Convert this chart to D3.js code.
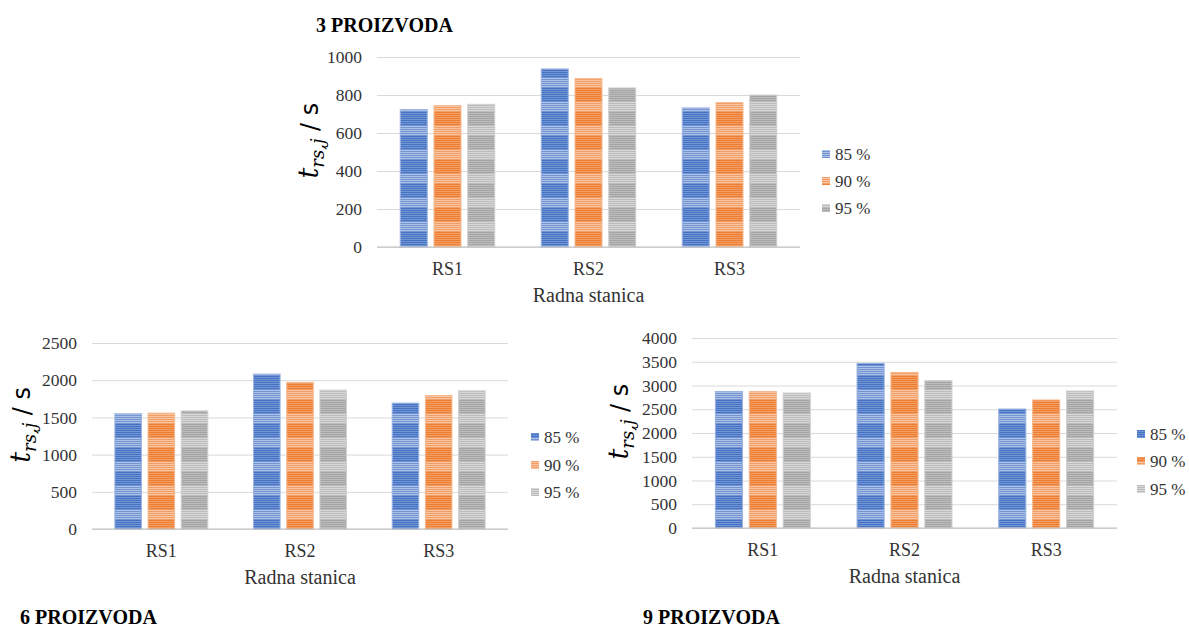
<!DOCTYPE html>
<html>
<head>
<meta charset="utf-8">
<script src="https://cdn.jsdelivr.net/npm/d3@7"></script>
<style>
  body { margin: 0; background: #fff; }
</style>
</head>
<body>
<div id="chart"></div>
<script>
const categories = ["RS1", "RS2", "RS3"];
const series = ["85 %", "90 %", "95 %"];
const colors = ["#4472C4", "#ED7D31", "#A5A5A5"];

// 3 proizvoda
const p3_85 = [723, 937, 732];
const p3_90 = [744, 886, 760];
const p3_95 = [751, 837, 800];
// 6 proizvoda
const p6_85 = [1548, 2082, 1692];
const p6_90 = [1557, 1969, 1794];
const p6_95 = [1588, 1867, 1857];
// 9 proizvoda
const p9_85 = [2873, 3466, 2505];
const p9_90 = [2873, 3276, 2695];
const p9_95 = [2842, 3102, 2884];

const serif = "'Liberation Serif', 'Times New Roman', serif";
const textCol = "#333";

const width = 1189, height = 628;
const svg = d3.select("#chart").append("svg")
  .attr("width", width).attr("height", height);

const defs = svg.append("defs");
// horizontal stripe fill like the original bars
colors.forEach((c, i) => {
  const light = d3.interpolateRgb(c, "#fff")(0.55);
  const mid = d3.interpolateRgb(c, "#fff")(0.25);
  const pat = defs.append("pattern")
    .attr("id", "stripe" + i)
    .attr("patternUnits", "userSpaceOnUse")
    .attr("width", 8).attr("height", 24);
  pat.append("rect").attr("width", 8).attr("height", 24).attr("fill", mid);
  for (let y = 0; y < 24; y += 2) {
    const inBand = (y >= 6 && y < 16);
    pat.append("rect").attr("x", 0).attr("y", y).attr("width", 8).attr("height", 1)
      .attr("fill", inBand ? light : c);
  }
});

const charts = [
  { title: "3 PROIZVODA", tx: 316, ty: 32, data: [p3_85, p3_90, p3_95],
    left: 377, right: 800, top: 57, bottom: 247, max: 1000, step: 200,
    ylx: 309, legX: 822, legY: [154, 181, 208] },
  { title: "6 PROIZVODA", tx: 20, ty: 624, data: [p6_85, p6_90, p6_95],
    left: 92, right: 508, top: 343, bottom: 529, max: 2500, step: 500,
    ylx: 21, legX: 531, legY: [437, 465, 492] },
  { title: "9 PROIZVODA", tx: 643, ty: 624, data: [p9_85, p9_90, p9_95],
    left: 692, right: 1117, top: 338, bottom: 528, max: 4000, step: 500,
    ylx: 619, legX: 1137, legY: [434, 461, 489] }
];

function serifText(sel, size) {
  return sel.attr("font-size", size)
    .attr("font-family", serif)
    .style("font-family", serif)
    .attr("fill", textCol);
}

charts.forEach(ch => {
  const g = svg.append("g");

  const x0 = d3.scaleBand().domain(categories).range([ch.left, ch.right]);
  const bw = x0.bandwidth();
  const x1 = d3.scaleBand().domain(series)
    .range([bw * 0.165, bw * 0.835]).paddingInner(0.2);
  const y = d3.scaleLinear().domain([0, ch.max]).range([ch.bottom, ch.top]);

  // gridlines + tick labels
  const yAxis = d3.axisLeft(y)
    .tickValues(d3.range(0, ch.max + 1, ch.step))
    .tickSize(-(ch.right - ch.left))
    .tickPadding(15)
    .tickFormat(d3.format("d"));
  const ag = g.append("g").attr("transform", `translate(${ch.left},0)`).call(yAxis);
  ag.select(".domain").remove();
  ag.selectAll(".tick line").attr("stroke", "#d9d9d9").attr("stroke-width", 1);
  serifText(ag.selectAll(".tick text"), 17.5);

  // bars
  series.forEach((s, si) => {
    g.selectAll(null).data(ch.data[si]).enter().append("rect")
      .attr("x", (d, i) => x0(categories[i]) + x1(s))
      .attr("y", d => y(d))
      .attr("width", x1.bandwidth())
      .attr("height", d => y(0) - y(d))
      .attr("fill", `url(#stripe${si})`)
      .attr("stroke", d3.interpolateRgb(colors[si], "#fff")(0.45))
      .attr("stroke-width", 1);
  });

  // baseline
  g.append("line")
    .attr("x1", ch.left).attr("x2", ch.right)
    .attr("y1", y(0)).attr("y2", y(0))
    .attr("stroke", "#bfbfbf").attr("stroke-width", 1.2);

  // x labels
  const xAxis = d3.axisBottom(x0).tickSize(0).tickPadding(15);
  const xg = g.append("g").attr("transform", `translate(0,${ch.bottom})`).call(xAxis);
  xg.select(".domain").remove();
  serifText(xg.selectAll("text"), 18);

  serifText(g.append("text"), 20)
    .attr("x", (ch.left + ch.right) / 2).attr("y", ch.bottom + 55)
    .attr("text-anchor", "middle")
    .text("Radna stanica");

  // y axis title
  const cy = ch.top + (ch.bottom - ch.top) * 0.44;
  const yl = g.append("text")
    .attr("transform", `translate(${ch.ylx + 9},${cy}) rotate(-90)`)
    .attr("text-anchor", "middle");
  yl.append("tspan").attr("font-style", "italic").attr("font-size", 27)
    .style("font-family", "'DejaVu Serif', serif").attr("fill", "#000").text("t");
  yl.append("tspan").attr("font-style", "italic").attr("font-size", 18)
    .style("font-family", "'DejaVu Serif', serif").attr("fill", "#000")
    .attr("dy", 6).text("rs,j");
  yl.append("tspan").attr("font-size", 24)
    .style("font-family", "'DejaVu Sans', sans-serif").attr("fill", "#000")
    .attr("dy", -6).text(" / s");

  // legend
  series.forEach((s, si) => {
    g.append("rect")
      .attr("x", ch.legX).attr("y", ch.legY[si] - 4)
      .attr("width", 8).attr("height", 8)
      .attr("fill", `url(#stripe${si})`);
    serifText(g.append("text"), 17)
      .attr("x", ch.legX + 13).attr("y", ch.legY[si] + 6)
      .text(s);
  });

  // title
  serifText(g.append("text"), 20)
    .attr("x", ch.tx).attr("y", ch.ty)
    .attr("font-weight", "bold").attr("fill", "#000")
    .text(ch.title);
});
</script>
</body>
</html>
